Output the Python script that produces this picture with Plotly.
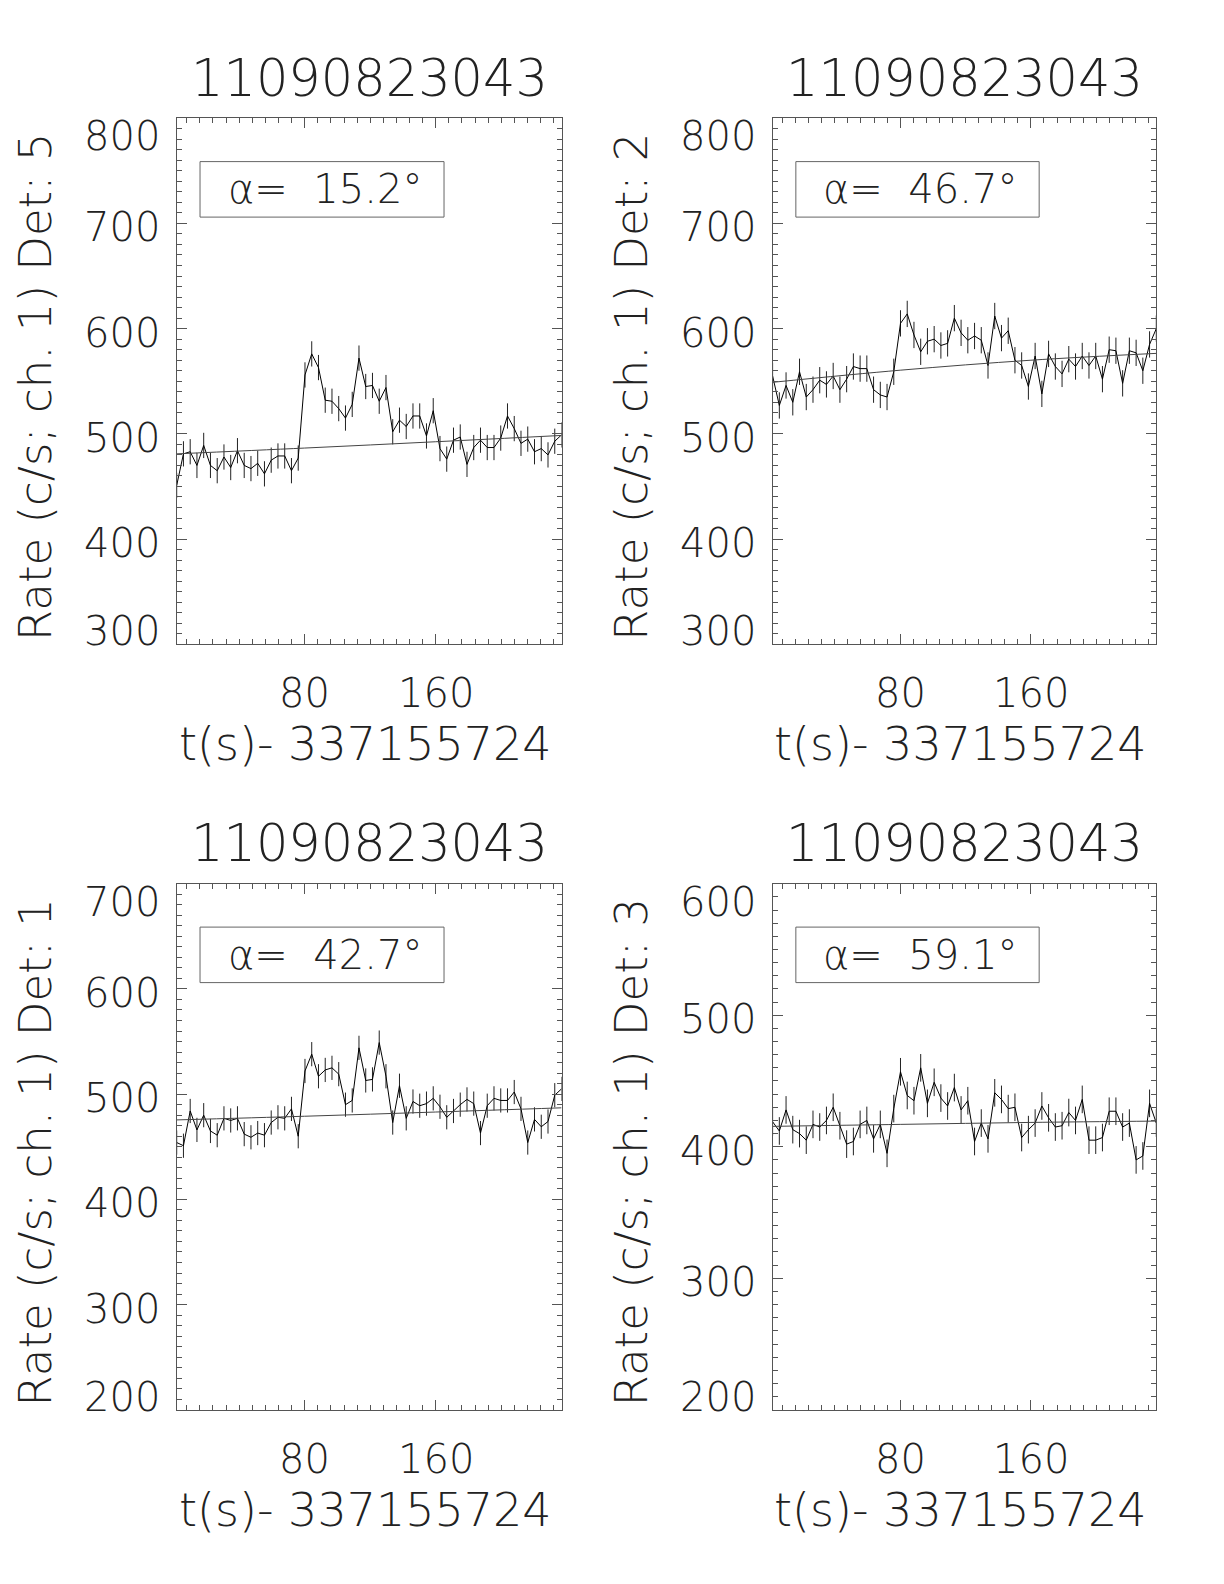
import plotly.graph_objects as go

# ---- data ----
TITLE = "11090823043"
XTITLE = "t(s)- 337155724"
T0 = 1.9          # first bin time (s)
BIN = 4.12        # bin width (s)

RATE_DET5 = [451, 481, 483, 470, 489, 470, 465, 478, 468, 484,
             470, 467, 472, 462, 475, 479, 479, 465, 477, 556,
             576, 563, 532, 531, 524, 515, 528, 572, 545, 546,
             531, 544, 502, 513, 507, 517, 517, 498, 522, 486,
             476, 494, 497, 471, 487, 494, 487, 487, 496, 517,
             505, 491, 495, 483, 486, 480, 493, 499]
RATE_DET2 = [555, 527, 546, 530, 559, 535, 542, 551, 547, 555,
             542, 552, 564, 562, 562, 542, 537, 535, 559, 605,
             614, 594, 578, 588, 590, 584, 586, 610, 596, 589,
             593, 589, 565, 612, 591, 598, 570, 565, 545, 574,
             538, 576, 564, 557, 571, 564, 574, 565, 574, 552,
             580, 579, 548, 579, 577, 560, 585, 600]
RATE_DET1 = [454, 451, 484, 466, 480, 465, 461, 477, 475, 477,
             462, 459, 463, 461, 473, 478, 477, 486, 460, 522,
             538, 517, 523, 525, 519, 490, 494, 544, 513, 514,
             549, 517, 473, 508, 477, 493, 489, 491, 496, 488,
             478, 484, 490, 495, 491, 463, 489, 496, 494, 494,
             502, 486, 454, 476, 469, 474, 499, 505]
RATE_DET3 = [419, 412, 428, 413, 410, 405, 417, 415, 420, 430,
             416, 402, 404, 417, 420, 406, 417, 395, 429, 457,
             439, 435, 460, 433, 449, 437, 431, 445, 428, 435,
             404, 418, 406, 441, 436, 429, 430, 407, 413, 418,
             431, 422, 415, 416, 426, 420, 436, 405, 405, 407,
             427, 427, 415, 418, 390, 393, 433, 418]

ERR_DET5, ERR_DET2, ERR_DET1, ERR_DET3 = 12.0, 12.5, 11.5, 10.5

BG_T = [1.9, 80, 160, 236.8]
BG_DET5 = [481, 486.5, 492.5, 498.5]
BG_DET2 = [549, 560.5, 570, 576.5]
BG_DET1 = [475.5, 479, 483, 487]
BG_DET3 = [415.5, 417, 418.5, 419.5]

DETS = [5, 2, 1, 3]
ALPHAS = ["15.2", "46.7", "42.7", "59.1"]
YTICKS_TOP = [300, 400, 500, 600, 700, 800]
YTICKS_BOT_L = [200, 300, 400, 500, 600, 700]
YTICKS_BOT_R = [200, 300, 400, 500, 600]
XTICKS = [80, 160]

# ---- figure ----
# the html page has an 8 px body margin, so the figure is 16 px smaller
# and every page position is shifted by 8 px
OFF = 8
W, H = 1224 - 2 * OFF, 1584 - 2 * OFF
T = [T0 + BIN * i for i in range(len(RATE_DET5))]

panels = [
    dict(rate=RATE_DET5, err=ERR_DET5, bg=BG_DET5, yt=YTICKS_TOP, box=(176.7, 561.5, 118.2, 644.3)),
    dict(rate=RATE_DET2, err=ERR_DET2, bg=BG_DET2, yt=YTICKS_TOP, box=(772.6, 1156.3, 118.2, 644.3)),
    dict(rate=RATE_DET1, err=ERR_DET1, bg=BG_DET1, yt=YTICKS_BOT_L, box=(176.7, 561.5, 883.7, 1409.8)),
    dict(rate=RATE_DET3, err=ERR_DET3, bg=BG_DET3, yt=YTICKS_BOT_R, box=(772.6, 1156.3, 883.7, 1409.8)),
]

FONT = "DejaVu Sans"
FW = 200
TXT = "#222"
AX = "#555"

fig = go.Figure()
annotations = []
shapes = []

for k, p in enumerate(panels):
    n = k + 1
    xa = "x" if n == 1 else f"x{n}"
    ya = "y" if n == 1 else f"y{n}"
    x0, x1, y0, y1 = [v - OFF for v in p["box"]]
    fig.add_trace(go.Scatter(
        x=T[:len(p["rate"])], y=p["rate"], mode="lines",
        line=dict(color="black", width=1),
        error_y=dict(type="constant", value=p["err"], thickness=1, width=0, color="#222"),
        xaxis=xa, yaxis=ya, showlegend=False, cliponaxis=True))
    fig.add_trace(go.Scatter(
        x=BG_T, y=p["bg"], mode="lines", line=dict(color="#444", width=1, shape="spline"),
        xaxis=xa, yaxis=ya, showlegend=False))

    axcommon = dict(showline=True, linecolor=AX, linewidth=1, mirror="ticks",
                    ticks="inside", ticklen=10, tickwidth=1, tickcolor=AX,
                    showgrid=False, zeroline=False, showticklabels=False)
    xkey = "xaxis" if n == 1 else f"xaxis{n}"
    ykey = "yaxis" if n == 1 else f"yaxis{n}"
    fig.update_layout(**{
        xkey: dict(domain=[x0 / W, x1 / W], range=[T0, T[len(p["rate"]) - 1]],
                   anchor=ya, tick0=0, dtick=80,
                   minor=dict(dtick=8, tick0=0, ticks="inside", ticklen=5, tickcolor=AX, showgrid=False),
                   **axcommon),
        ykey: dict(domain=[1 - y1 / H, 1 - y0 / H], range=[p["yt"][0], p["yt"][-1]],
                   anchor=xa, tick0=0, dtick=100,
                   minor=dict(dtick=10, tick0=0, ticks="inside", ticklen=5, tickcolor=AX, showgrid=False),
                   **axcommon),
    })
    xd = f"{xa} domain"
    yd = f"{ya} domain"
    f = lambda s: dict(family=FONT, size=s, color=TXT, weight=FW)
    # title
    annotations.append(dict(text=TITLE, xref=xd, yref=yd, x=0.5, y=1, yshift=40,
                            xanchor="center", yanchor="middle", showarrow=False, font=f(51)))
    # y tick labels
    for v in p["yt"]:
        if v == p["yt"][-1]:
            ya_, ys = "top", 7
        elif v == p["yt"][0]:
            ya_, ys = "bottom", -12
        else:
            ya_, ys = "middle", -4
        annotations.append(dict(text=str(v), xref=xd, yref=ya, x=0, y=v, xshift=-15, yshift=ys,
                                xanchor="right", yanchor=ya_, showarrow=False, font=f(40)))
    # x tick labels
    for v in XTICKS:
        annotations.append(dict(text=str(v), xref=xa, yref=yd, x=v, y=0, yshift=-49,
                                xanchor="center", yanchor="middle", showarrow=False, font=f(40)))
    # x title
    annotations.append(dict(text=XTITLE, xref=xd, yref=yd, x=0.5, y=0, yshift=-100, xshift=-4,
                            xanchor="center", yanchor="middle", showarrow=False, font=f(46)))
    # y title
    annotations.append(dict(text=f"Rate (c/s; ch. 1) Det: {DETS[k]}", xref="paper", yref=yd,
                            x=(x0 - 141) / W, y=0.5, yshift=-6, textangle=-90,
                            xanchor="center", yanchor="middle", showarrow=False, font=f(45)))
    # alpha box
    shapes.append(dict(type="rect", xref=xd, yref=yd, x0=0.0606, x1=0.6947, y0=0.812, y1=0.9175,
                       line=dict(color="#666", width=1)))
    annotations.append(dict(text=f"α=  {ALPHAS[k]}°", xref=xd, yref=yd, x=0.385, y=0.8647,
                            xanchor="center", yanchor="middle", showarrow=False, font=f(40)))

fig.update_layout(width=W, height=H, margin=dict(l=0, r=0, t=0, b=0),
                  paper_bgcolor="white", plot_bgcolor="white",
                  font=dict(family=FONT, color=TXT),
                  annotations=annotations, shapes=shapes)

fig.write_html("out.html")
